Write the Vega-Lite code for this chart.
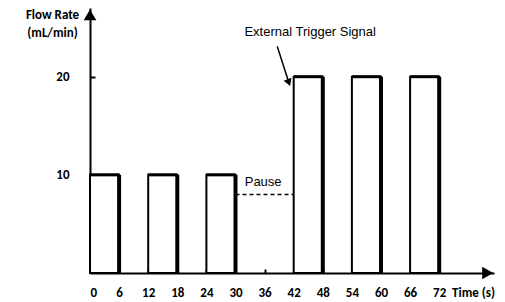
{
  "$schema": "https://vega.github.io/schema/vega-lite/v6.json",
  "width": 404,
  "height": 265,
  "autosize": "none",
  "padding": {"left": 90, "top": 8, "right": 11, "bottom": 29},
  "background": "white",
  "config": {"view": {"stroke": null}, "axis": {"grid": false, "labelOverlap": false}},
  "datasets": {
    "bars": [
      {"start": 0, "end": 6, "rate": 10},
      {"start": 12, "end": 18, "rate": 10},
      {"start": 24, "end": 30, "rate": 10},
      {"start": 42, "end": 48, "rate": 20},
      {"start": 54, "end": 60, "rate": 20},
      {"start": 66, "end": 72, "rate": 20}
    ],
    "pause": [{"start": 30, "end": 42, "rate": 8, "label": "Pause", "lx": 35.7, "ly": 9.3}],
    "note": [{"x": 45.4, "y": 24.6, "label": "External Trigger Signal", "ax": 38.6, "ay": 23.1, "hx": 41.0, "hy": 19.4}],
    "arrows": [
      {"x": 0, "y": 26.3, "shape": "triangle-up"},
      {"x": 82.0, "y": 0, "shape": "triangle-right"}
    ]
  },
  "layer": [
    {
      "data": {"name": "bars"},
      "mark": {"type": "rect", "fill": "white", "stroke": "black", "strokeWidth": 2},
      "encoding": {
        "x": {"field": "start", "type": "quantitative", "scale": {"domain": [0, 83.3], "nice": false},
          "axis": {"values": [0, 6, 12, 18, 24, 30, 36, 42, 48, 54, 60, 66, 72], "tickCount": 30, "labelOverlap": false, "title": "Time (s)", "domainColor": "black", "domainWidth": 2, "tickColor": "black", "tickWidth": 2, "tickSize": -4, "labelPadding": 23, "labelBaseline": "middle", "labelFont": "Carlito, Lato", "labelFontWeight": "bold", "labelFontSize": 13, "labelColor": "black", "titleFont": "Carlito, Lato", "titleFontWeight": "bold", "titleFontSize": 13, "titleColor": "black", "titleX": 383, "titleY": 19, "titleBaseline": "middle", "titleAlign": "center", "titleAnchor": null}},
        "x2": {"field": "end"},
        "y": {"field": "rate", "type": "quantitative", "scale": {"domain": [0, 27], "nice": false},
          "axis": {"values": [10, 20], "tickCount": 10, "labelOverlap": false, "title": ["Flow Rate", "(mL/min)"], "domainColor": "black", "domainWidth": 2, "tickColor": "black", "tickWidth": 2, "tickSize": -5, "labelPadding": 26, "labelFont": "Carlito, Lato", "labelFontWeight": "bold", "labelFontSize": 13, "labelColor": "black", "titleFont": "Carlito, Lato", "titleFontWeight": "bold", "titleFontSize": 13, "titleColor": "black", "titleAngle": 0, "titleX": -38, "titleY": 6, "titleAlign": "center", "titleBaseline": "middle", "titleLineHeight": 18, "titleAnchor": null}},
        "y2": {"datum": 0}
      }
    },
    {
      "data": {"name": "bars"},
      "mark": {"type": "rule", "stroke": "black", "strokeWidth": 4},
      "encoding": {
        "x": {"field": "end", "type": "quantitative", "scale": {"domain": [0, 83.3], "nice": false}},
        "y": {"field": "rate", "type": "quantitative", "scale": {"domain": [0, 27], "nice": false}},
        "y2": {"datum": 0}
      }
    },
    {
      "data": {"name": "bars"},
      "mark": {"type": "rule", "stroke": "black", "strokeWidth": 3},
      "encoding": {
        "x": {"field": "start", "type": "quantitative", "scale": {"domain": [0, 83.3], "nice": false}},
        "x2": {"field": "end"},
        "y": {"field": "rate", "type": "quantitative", "scale": {"domain": [0, 27], "nice": false}}
      }
    },
    {
      "data": {"name": "pause"},
      "mark": {"type": "rule", "stroke": "black", "strokeWidth": 1.5, "strokeDash": [4, 3]},
      "encoding": {
        "x": {"field": "start", "type": "quantitative", "scale": {"domain": [0, 83.3], "nice": false}},
        "x2": {"field": "end"},
        "y": {"field": "rate", "type": "quantitative", "scale": {"domain": [0, 27], "nice": false}}
      }
    },
    {
      "data": {"name": "pause"},
      "mark": {"type": "text", "font": "Liberation Sans", "fontSize": 13, "color": "black", "align": "center", "baseline": "middle"},
      "encoding": {
        "x": {"field": "lx", "type": "quantitative", "scale": {"domain": [0, 83.3], "nice": false}},
        "y": {"field": "ly", "type": "quantitative", "scale": {"domain": [0, 27], "nice": false}},
        "text": {"field": "label"}
      }
    },
    {
      "data": {"name": "note"},
      "mark": {"type": "text", "font": "Liberation Sans", "fontSize": 13, "color": "black", "align": "center", "baseline": "middle"},
      "encoding": {
        "x": {"field": "x", "type": "quantitative", "scale": {"domain": [0, 83.3], "nice": false}},
        "y": {"field": "y", "type": "quantitative", "scale": {"domain": [0, 27], "nice": false}},
        "text": {"field": "label"}
      }
    },
    {
      "data": {"name": "note"},
      "mark": {"type": "rule", "stroke": "black", "strokeWidth": 1.5},
      "encoding": {
        "x": {"field": "ax", "type": "quantitative", "scale": {"domain": [0, 83.3], "nice": false}},
        "y": {"field": "ay", "type": "quantitative", "scale": {"domain": [0, 27], "nice": false}},
        "x2": {"field": "hx"},
        "y2": {"field": "hy"}
      }
    },
    {
      "data": {"name": "note"},
      "mark": {"type": "point", "shape": "triangle-down", "filled": true, "color": "black", "size": 70, "angle": -21, "opacity": 1},
      "encoding": {
        "x": {"field": "hx", "type": "quantitative", "scale": {"domain": [0, 83.3], "nice": false}},
        "y": {"field": "hy", "type": "quantitative", "scale": {"domain": [0, 27], "nice": false}}
      }
    },
    {
      "data": {"name": "arrows"},
      "mark": {"type": "point", "filled": true, "color": "black", "size": 160, "opacity": 1},
      "encoding": {
        "x": {"field": "x", "type": "quantitative", "scale": {"domain": [0, 83.3], "nice": false}},
        "y": {"field": "y", "type": "quantitative", "scale": {"domain": [0, 27], "nice": false}},
        "shape": {"field": "shape", "type": "nominal", "scale": null, "legend": null}
      }
    }
  ]
}
